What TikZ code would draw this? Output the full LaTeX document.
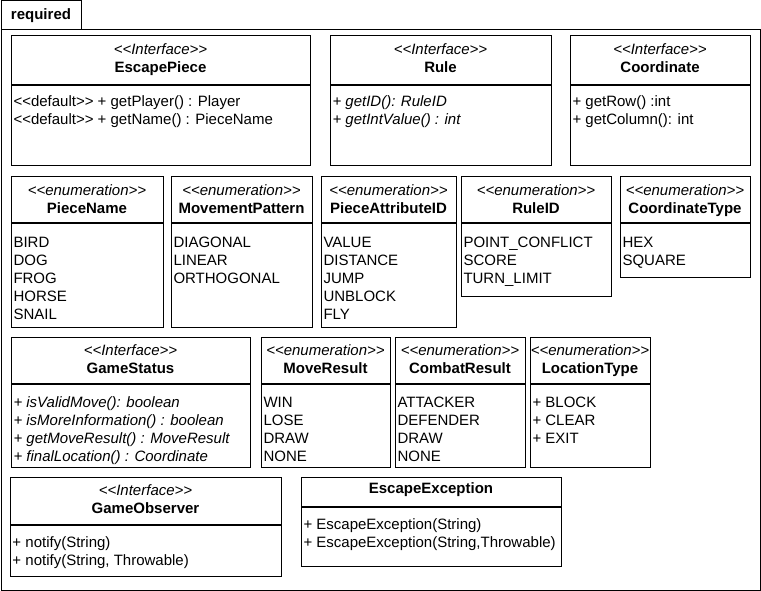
\documentclass[tikz,border=0pt]{standalone}
\usepackage{fontspec}
\setmainfont{Liberation Sans}
\usetikzlibrary{positioning}
\newcommand{\hstr}{\rule{0pt}{14pt}}

\begin{document}
\begin{tikzpicture}[x=1pt, y=-1pt, line width=1pt,
	box/.style={draw, anchor=north west, inner sep=0pt, outer sep=0pt},
	head/.style={anchor=north, align=center, inner sep=0pt, font=\fontsize{15}{18}\selectfont},
	body/.style={anchor=north west, align=left, inner sep=0pt, font=\fontsize{15}{18}\selectfont},
	ibody/.style={body, font=\fontsize{15}{18}\selectfont\itshape},
	sep/.style={line width=1.7pt}]
			
			\useasboundingbox (0,0) rectangle (761,591);
			
			\node[box, minimum width=80pt, minimum height=29pt] (tab) at (1,1) {};
			\node[font=\fontsize{15}{18}\selectfont\bfseries] (tabname) at (tab.center) {required};
			\node[box, minimum width=759pt, minimum height=560pt] (pkg) at (1,30) {};
			
			\node[box, minimum width=299pt, minimum height=130pt] (piece) at (11,36) {};
			\node[head] (piece-h) at ([yshift=-4pt]piece.north) {\hstr\textit{<{}<Interface>{}>}\\\textbf{EscapePiece}};
			\draw[sep] ([yshift=-49pt]piece.north west) -- ([yshift=-49pt]piece.north east);
			\node[body] (piece-b) at ([xshift=2pt, yshift=-56pt]piece.north west) {\hstr<{}<default>{}> + getPlayer() : Player\\<{}<default>{}> + getName() : PieceName};
			
			\node[box, minimum width=221pt, minimum height=130pt] (rule) at (330,36) {};
			\node[head] (rule-h) at ([yshift=-4pt]rule.north) {\hstr\textit{<{}<Interface>{}>}\\\textbf{Rule}};
			\draw[sep] ([yshift=-49pt]rule.north west) -- ([yshift=-49pt]rule.north east);
			\node[ibody] (rule-b) at ([xshift=2pt, yshift=-56pt]rule.north west) {\hstr+ getID(): RuleID\\+ getIntValue() : int};
			
			\node[box, minimum width=180pt, minimum height=130pt] (coord) at (570,36) {};
			\node[head] (coord-h) at ([yshift=-4pt]coord.north) {\hstr\textit{<{}<Interface>{}>}\\\textbf{Coordinate}};
			\draw[sep] ([yshift=-49pt]coord.north west) -- ([yshift=-49pt]coord.north east);
			\node[body] (coord-b) at ([xshift=2pt, yshift=-56pt]coord.north west) {\hstr+ getRow() :int\\+ getColumn(): int};
			
			\node[box, minimum width=152pt, minimum height=150pt] (name) at (11,177) {};
			\node[head] (name-h) at ([yshift=-4pt]name.north) {\hstr\textit{<{}<enumeration>{}>}\\\textbf{PieceName}};
			\draw[sep] ([yshift=-46pt]name.north west) -- ([yshift=-46pt]name.north east);
			\node[body] (name-b) at ([xshift=2pt, yshift=-56pt]name.north west) {\hstr BIRD\\DOG\\FROG\\HORSE\\SNAIL};
			
			\node[box, minimum width=141pt, minimum height=150pt] (pattern) at (171,177) {};
			\node[head] (pattern-h) at ([yshift=-4pt]pattern.north) {\hstr\textit{<{}<enumeration>{}>}\\\textbf{MovementPattern}};
			\draw[sep] ([yshift=-46pt]pattern.north west) -- ([yshift=-46pt]pattern.north east);
			\node[body] (pattern-b) at ([xshift=2pt, yshift=-56pt]pattern.north west) {\hstr DIAGONAL\\LINEAR\\ORTHOGONAL};
			
			\node[box, minimum width=135pt, minimum height=150pt] (attr) at (321,177) {};
			\node[head] (attr-h) at ([yshift=-4pt]attr.north) {\hstr\textit{<{}<enumeration>{}>}\\\textbf{PieceAttributeID}};
			\draw[sep] ([yshift=-46pt]attr.north west) -- ([yshift=-46pt]attr.north east);
			\node[body] (attr-b) at ([xshift=2pt, yshift=-56pt]attr.north west) {\hstr VALUE\\DISTANCE\\JUMP\\UNBLOCK\\FLY};
			
			\node[box, minimum width=150pt, minimum height=119pt] (ruleid) at (461,177) {};
			\node[head] (ruleid-h) at ([yshift=-4pt]ruleid.north) {\hstr\textit{<{}<enumeration>{}>}\\\textbf{RuleID}};
			\draw[sep] ([yshift=-46pt]ruleid.north west) -- ([yshift=-46pt]ruleid.north east);
			\node[body] (ruleid-b) at ([xshift=2pt, yshift=-56pt]ruleid.north west) {\hstr POINT\_CONFLICT\\SCORE\\TURN\_LIMIT};
			
			\node[box, minimum width=130pt, minimum height=100pt] (ctype) at (620,177) {};
			\node[head] (ctype-h) at ([yshift=-4pt]ctype.north) {\hstr\textit{<{}<enumeration>{}>}\\\textbf{CoordinateType}};
			\draw[sep] ([yshift=-46pt]ctype.north west) -- ([yshift=-46pt]ctype.north east);
			\node[body] (ctype-b) at ([xshift=2pt, yshift=-56pt]ctype.north west) {\hstr HEX\\SQUARE};
			
			\node[box, minimum width=239pt, minimum height=130pt] (status) at (11,337) {};
			\node[head] (status-h) at ([yshift=-4pt]status.north) {\hstr\textit{<{}<Interface>{}>}\\\textbf{GameStatus}};
			\draw[sep] ([yshift=-47pt]status.north west) -- ([yshift=-47pt]status.north east);
			\node[ibody] (status-b) at ([xshift=2pt, yshift=-56pt]status.north west) {\hstr+ isValidMove(): boolean\\+ isMoreInformation() : boolean\\+ getMoveResult() : MoveResult\\+ finalLocation() : Coordinate};
			
			\node[box, minimum width=129pt, minimum height=130pt] (move) at (261,337) {};
			\node[head] (move-h) at ([yshift=-4pt]move.north) {\hstr\textit{<{}<enumeration>{}>}\\\textbf{MoveResult}};
			\draw[sep] ([yshift=-47pt]move.north west) -- ([yshift=-47pt]move.north east);
			\node[body] (move-b) at ([xshift=2pt, yshift=-56pt]move.north west) {\hstr WIN\\LOSE\\DRAW\\NONE};
			
			\node[box, minimum width=130pt, minimum height=130pt] (combat) at (395,337) {};
			\node[head] (combat-h) at ([yshift=-4pt]combat.north) {\hstr\textit{<{}<enumeration>{}>}\\\textbf{CombatResult}};
			\draw[sep] ([yshift=-47pt]combat.north west) -- ([yshift=-47pt]combat.north east);
			\node[body] (combat-b) at ([xshift=2pt, yshift=-56pt]combat.north west) {\hstr ATTACKER\\DEFENDER\\DRAW\\NONE};
			
			\node[box, minimum width=120pt, minimum height=130pt] (loc) at (530,337) {};
			\node[head] (loc-h) at ([yshift=-4pt]loc.north) {\hstr\textit{<{}<enumeration>{}>}\\\textbf{LocationType}};
			\draw[sep] ([yshift=-47pt]loc.north west) -- ([yshift=-47pt]loc.north east);
			\node[body] (loc-b) at ([xshift=2pt, yshift=-56pt]loc.north west) {\hstr+ BLOCK\\+ CLEAR\\+ EXIT};
			
			\node[box, minimum width=271pt, minimum height=99pt] (observer) at (10,477) {};
			\node[head] (observer-h) at ([yshift=-4pt]observer.north) {\hstr\textit{<{}<Interface>{}>}\\\textbf{GameObserver}};
			\draw[sep] ([yshift=-48pt]observer.north west) -- ([yshift=-48pt]observer.north east);
			\node[body] (observer-b) at ([xshift=2pt, yshift=-56pt]observer.north west) {\hstr+ notify(String)\\+ notify(String, Throwable)};
			
			\node[box, minimum width=260pt, minimum height=89pt] (except) at (301,477) {};
			\node[head] (except-h) at ([yshift=-2pt]except.north) {\hstr\textbf{EscapeException}};
			\draw[sep] ([yshift=-30pt]except.north west) -- ([yshift=-30pt]except.north east);
			\node[body] (except-b) at ([xshift=2pt, yshift=-38pt]except.north west) {\hstr+ EscapeException(String)\\+ EscapeException(String,Throwable)};
			
		\end{tikzpicture}
\end{document}
